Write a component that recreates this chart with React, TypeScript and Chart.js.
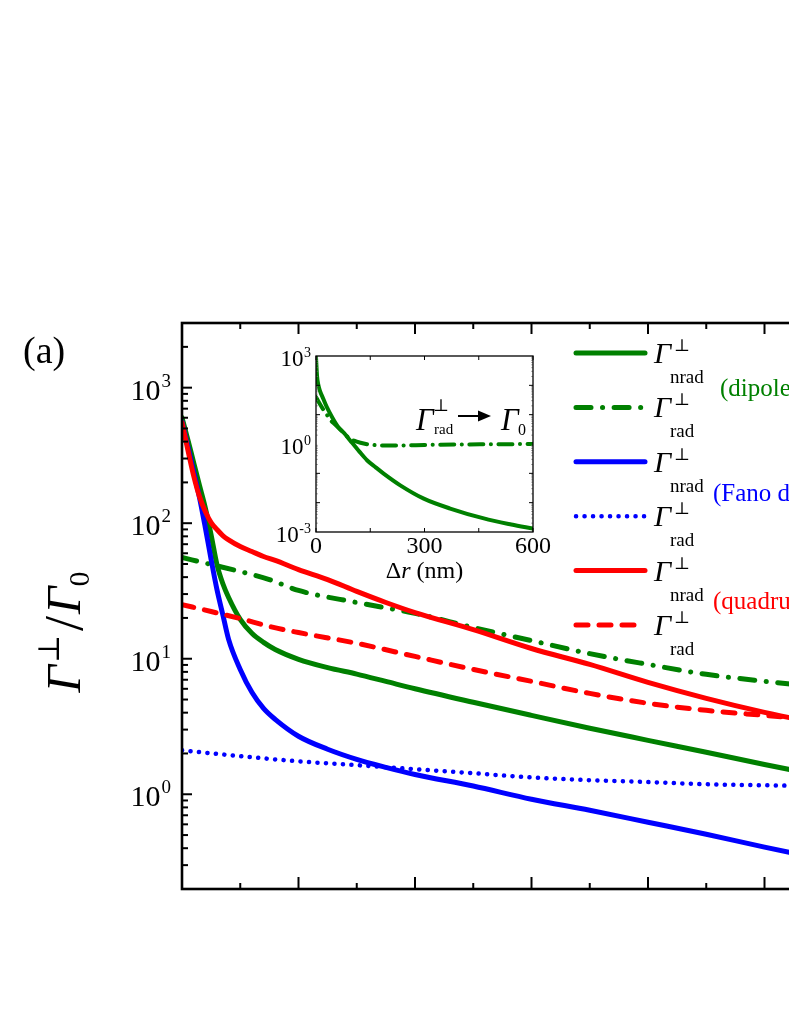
import React, { useEffect, useRef } from "react";
import { Chart, registerables } from "chart.js";
Chart.register(...registerables);

const SERIF = '"Liberation Serif", "Times New Roman", "DejaVu Serif", serif';
const GREEN = "#008000";
const BLUE = "#0000ff";
const RED = "#ff0000";

// ---------- main panel data (x: Δr in nm, y: Γ⊥/Γ0) ----------
const mainDr = [0, 1, 2, 3, 4, 5, 6, 7, 8, 10, 12, 14, 16, 20, 25, 30, 35, 40, 50, 60, 70, 80, 90, 100, 110];
const dipoleNrad = [601, 414, 280, 190, 130, 82, 49.6, 35.9, 28.3, 19.5, 15.4, 13.2, 11.7, 9.9, 8.6, 7.7, 6.8, 6.0, 4.77, 3.82, 3.07, 2.5, 2.04, 1.66, 1.36];
const fanoNrad = [561, 367, 240, 155, 92.9, 54, 32.4, 21.2, 13.9, 8.34, 5.65, 4.3, 3.57, 2.68, 2.15, 1.81, 1.58, 1.4, 1.15, 0.919, 0.762, 0.622, 0.507, 0.407, 0.332];
const quadNrad = [552, 349, 224, 157, 122, 101, 89.8, 81.1, 75.4, 67.3, 61.8, 56.8, 53.1, 45.5, 38.4, 31.4, 26.0, 21.9, 16.4, 11.9, 9.08, 6.69, 5.1, 4.02, 3.28];

const radDr = [0, 5, 10, 15, 20, 30, 40, 50, 60, 70, 80, 90, 100, 110];
const dipoleRad = [55.8, 49.6, 44.0, 38.4, 31.9, 26.0, 21.6, 17.0, 13.6, 10.9, 9.08, 7.67, 6.81, 6.15];
const quadRad = [25.1, 22.3, 19.8, 17.3, 15.6, 13.0, 10.4, 8.34, 6.81, 5.55, 4.69, 4.16, 3.82, 3.51];

const fanoRadDr = [0, 10, 20, 30, 40, 50, 60, 70, 80, 90, 100, 110];
const fanoRad = [2.11, 1.91, 1.75, 1.64, 1.53, 1.43, 1.33, 1.27, 1.23, 1.185, 1.165, 1.145];

// main axis ticks
const xMajorTicks = [20, 40, 60, 80, 100];
const xMinorTicks = [10, 30, 50, 70, 90, 110];
const yMajorTicks = [1, 10, 100, 1000];
const yTickExponents = ["0", "1", "2", "3"];
const yMinorTicks = [0.2, 0.3, 0.4, 0.5, 0.6, 0.7, 0.8, 0.9, 2, 3, 4, 5, 6, 7, 8, 9, 20, 30, 40, 50, 60, 70, 80, 90, 200, 300, 400, 500, 600, 700, 800, 900, 2000, 3000];

// legend
const legendSubs = ["nrad", "rad", "nrad", "rad", "nrad", "rad"];
const legendColors = [GREEN, GREEN, BLUE, BLUE, RED, RED];
const groupLabels = ["(dipole)", "(Fano dip)", "(quadrupole)"];
const groupColors = [GREEN, BLUE, RED];

// ---------- inset data (Δr 0–600 nm, dipole mode) ----------
const insetNradDr = [0, 3, 6, 10, 20, 30, 45, 60, 80, 95, 120, 141, 165, 187, 233, 298, 371, 464, 540, 600];
const insetNrad = [900, 200, 110, 70, 35, 18, 8, 4, 2.2, 1.3, 0.55, 0.28, 0.16, 0.098, 0.039, 0.0137, 0.0063, 0.0029, 0.0018, 0.0013];
const insetRadDr = [0, 10, 20, 30, 40, 50, 60, 75, 90, 105, 123, 145, 169, 200, 250, 300, 400, 500, 600];
const insetRad = [40, 24, 15, 10, 6.5, 5, 3.8, 2.5, 1.65, 1.3, 1.1, 0.97, 0.91, 0.89, 0.9, 0.93, 0.96, 0.98, 1.0];
const insetXTicks = [0, 300, 600];
const insetXMinor = [150, 450];
const insetYLabelled = [1e-3, 1, 1e3];
const insetYExponents = ["-3", "0", "3"];
const insetYDecades = [1e-2, 1e-1, 10, 100];

const pts = (xs: number[], ys: number[]) => xs.map((x, i) => ({ x, y: ys[i] }));

const MAIN_W = 1000;
const MAIN_H = 1021;
const MAIN_AREA = { left: 182, top: 323, right: 881, bottom: 889 };
const INSET_LEFT = 230;
const INSET_TOP = 340;

function drawGammaLabel(
  ctx: CanvasRenderingContext2D,
  x: number,
  base: number,
  gSize: number,
  supSize: number,
  subSize: number,
  sub: string,
  supDx: number,
  supDy: number,
  subDx: number,
  subDy: number,
  sup = "\u22A5"
) {
  ctx.textAlign = "left";
  ctx.textBaseline = "alphabetic";
  ctx.font = `italic ${gSize}px ${SERIF}`;
  ctx.fillText("\u0393", x, base);
  if (sup) {
    ctx.font = `${supSize}px ${SERIF}`;
    ctx.fillText(sup, x + supDx, base + supDy);
  }
  ctx.font = `${subSize}px ${SERIF}`;
  ctx.fillText(sub, x + subDx, base + subDy);
}

const mainDecor = {
  id: "mainDecor",
  afterDraw(chart: any) {
    const ctx: CanvasRenderingContext2D = chart.ctx;
    const { left, right, top, bottom } = chart.chartArea;
    const xs = chart.scales.x;
    const ys = chart.scales.y;
    ctx.save();
    ctx.strokeStyle = "#000";
    ctx.fillStyle = "#000";
    ctx.lineCap = "butt";
    ctx.lineWidth = 2;
    const vline = (x: number, y0: number, y1: number) => {
      ctx.beginPath();
      ctx.moveTo(x, y0);
      ctx.lineTo(x, y1);
      ctx.stroke();
    };
    const hline = (y: number, x0: number, x1: number) => {
      ctx.beginPath();
      ctx.moveTo(x0, y);
      ctx.lineTo(x1, y);
      ctx.stroke();
    };
    xMajorTicks.forEach((v) => {
      const px = xs.getPixelForValue(v);
      vline(px, bottom, bottom - 12);
      vline(px, top, top + 11);
    });
    xMinorTicks.forEach((v) => {
      const px = xs.getPixelForValue(v);
      vline(px, bottom, bottom - 6);
      vline(px, top, top + 6);
    });
    yMajorTicks.forEach((v) => {
      const py = ys.getPixelForValue(v);
      hline(py, left, left + 10);
      hline(py, right, right - 10);
    });
    yMinorTicks.forEach((v) => {
      const py = ys.getPixelForValue(v);
      hline(py, left, left + 6);
      hline(py, right, right - 6);
    });
    ctx.lineWidth = 2.6;
    ctx.strokeRect(left, top, right - left, bottom - top);

    // y tick labels 10^n
    yMajorTicks.forEach((v, i) => {
      const py = ys.getPixelForValue(v);
      ctx.font = `19px ${SERIF}`;
      const sw = ctx.measureText(yTickExponents[i]).width;
      ctx.font = `30px ${SERIF}`;
      const bw = ctx.measureText("10").width;
      const xEnd = 171;
      ctx.textAlign = "left";
      ctx.textBaseline = "alphabetic";
      ctx.fillText("10", xEnd - sw - bw - 1, py + 12);
      ctx.font = `19px ${SERIF}`;
      ctx.fillText(yTickExponents[i], xEnd - sw, py - 1);
    });

    // panel label
    ctx.font = `38px ${SERIF}`;
    ctx.fillText("(a)", 23, 363);

    // y-axis title  Γ⊥/Γ0 (rotated)
    ctx.save();
    ctx.translate(80, 632);
    ctx.rotate(-Math.PI / 2);
    const parts = [
      { t: "\u0393", f: `italic 48px ${SERIF}`, dy: 0, gap: 0 },
      { t: "\u22A5", f: `30px ${SERIF}`, dy: -21, gap: 2 },
      { t: "/", f: `54px ${SERIF}`, dy: 2, gap: 4 },
      { t: "\u0393", f: `italic 48px ${SERIF}`, dy: 0, gap: 2 },
      { t: "0", f: `30px ${SERIF}`, dy: 9, gap: 0 },
    ];
    let total = 0;
    const widths = parts.map((p) => {
      ctx.font = p.f;
      const w = ctx.measureText(p.t).width + p.gap;
      total += w;
      return w;
    });
    let cx = -total / 2;
    parts.forEach((p, i) => {
      ctx.font = p.f;
      ctx.fillText(p.t, cx + p.gap, p.dy);
      cx += widths[i];
    });
    ctx.restore();

    // legend
    const datasets = chart.data.datasets;
    legendSubs.forEach((sub, i) => {
      const rowY = 353 + i * 54.4;
      const ds = datasets[i];
      ctx.save();
      ctx.strokeStyle = legendColors[i];
      ctx.lineWidth = ds.borderWidth;
      ctx.lineCap = "round";
      ctx.setLineDash(ds.borderDash || []);
      ctx.beginPath();
      ctx.moveTo(576, rowY);
      ctx.lineTo(645, rowY);
      ctx.stroke();
      ctx.restore();
      ctx.fillStyle = "#000";
      drawGammaLabel(ctx, 654, rowY + 10, 30, 17, 19, sub, 20, -12, 16, 20);
    });
    groupLabels.forEach((g, i) => {
      ctx.fillStyle = groupColors[i];
      ctx.font = `25px ${SERIF}`;
      ctx.textAlign = "left";
      const gy = [396, 501, 609][i];
      const gx = [720, 713, 713][i];
      ctx.fillText(g, gx, gy);
    });
    ctx.restore();
  },
};

const insetDecor = {
  id: "insetDecor",
  afterDraw(chart: any) {
    const ctx: CanvasRenderingContext2D = chart.ctx;
    const { left, right, top, bottom } = chart.chartArea;
    const xs = chart.scales.x;
    const ys = chart.scales.y;
    ctx.save();
    ctx.strokeStyle = "#000";
    ctx.fillStyle = "#000";
    ctx.lineWidth = 1;
    const seg = (x0: number, y0: number, x1: number, y1: number) => {
      ctx.beginPath();
      ctx.moveTo(x0, y0);
      ctx.lineTo(x1, y1);
      ctx.stroke();
    };
    [...insetXTicks, ...insetXMinor].forEach((v) => {
      const px = xs.getPixelForValue(v);
      seg(px, bottom, px, bottom - 4);
      seg(px, top, px, top + 4);
    });
    insetYDecades.forEach((v) => {
      const py = ys.getPixelForValue(v);
      seg(left, py, left + 4, py);
      seg(right, py, right - 4, py);
    });
    ctx.lineWidth = 0.6;
    ctx.strokeStyle = "#777";
    for (let e = -3; e < 3; e++) {
      for (let k = 2; k <= 9; k++) {
        const py = ys.getPixelForValue(k * Math.pow(10, e));
        seg(left, py, left + 2, py);
        seg(right, py, right - 2, py);
      }
    }
    ctx.strokeStyle = "#000";
    ctx.lineWidth = 1.3;
    ctx.strokeRect(left, top, right - left, bottom - top);

    // from here on, page coordinates
    ctx.translate(-INSET_LEFT, -INSET_TOP);
    const X = (v: number) => xs.getPixelForValue(v) + INSET_LEFT;
    const Y = (v: number) => ys.getPixelForValue(v) + INSET_TOP;

    // y labels
    insetYLabelled.forEach((v, i) => {
      const py = Y(v);
      ctx.font = `14px ${SERIF}`;
      const sw = ctx.measureText(insetYExponents[i]).width;
      ctx.font = `23px ${SERIF}`;
      const bw = ctx.measureText("10").width;
      const xEnd = 311;
      ctx.textAlign = "left";
      ctx.fillText("10", xEnd - sw - bw - 0.5, py + 10);
      ctx.font = `14px ${SERIF}`;
      ctx.fillText(insetYExponents[i], xEnd - sw, py + 1);
    });
    // x labels
    ctx.font = `24px ${SERIF}`;
    ctx.textAlign = "center";
    insetXTicks.forEach((v) => {
      ctx.fillText(String(v), X(v), 553);
    });
    // x title Δr (nm)
    ctx.textAlign = "left";
    const t1 = "\u0394";
    const t2 = "r";
    const t3 = " (nm)";
    ctx.font = `24px ${SERIF}`;
    const w1 = ctx.measureText(t1).width;
    const w3 = ctx.measureText(t3).width;
    ctx.font = `italic 24px ${SERIF}`;
    const w2 = ctx.measureText(t2).width;
    let sx = X(300) - (w1 + w2 + w3) / 2;
    ctx.font = `24px ${SERIF}`;
    ctx.fillText(t1, sx, 578);
    sx += w1;
    ctx.font = `italic 24px ${SERIF}`;
    ctx.fillText(t2, sx, 578);
    sx += w2;
    ctx.font = `24px ${SERIF}`;
    ctx.fillText(t3, sx, 578);

    // annotation Γ⊥rad → Γ0
    drawGammaLabel(ctx, 416, 430, 31, 17, 15, "rad", 17, -19, 18, 4);
    ctx.lineWidth = 2;
    seg(458, 416, 481, 416);
    ctx.beginPath();
    ctx.moveTo(491, 416);
    ctx.lineTo(478, 410.5);
    ctx.lineTo(478, 421.5);
    ctx.closePath();
    ctx.fill();
    drawGammaLabel(ctx, 501, 430, 31, 16, 16, "0", 0, 0, 17, 5, "");
    ctx.restore();
  },
};

export default function App() {
  const mainRef = useRef<HTMLCanvasElement>(null);
  const insetRef = useRef<HTMLCanvasElement>(null);

  useEffect(() => {
    if (!mainRef.current || !insetRef.current) return;
    const lineDs = (label: string, data: any[], color: string, order: number, dash: number[] = []) => ({
      label,
      data,
      order,
      borderColor: color,
      backgroundColor: color,
      borderWidth: 5,
      borderDash: dash,
      borderCapStyle: "round" as const,
      borderJoinStyle: "round" as const,
      pointRadius: 0,
      fill: false,
      cubicInterpolationMode: "monotone" as const,
    });
    const main = new Chart(mainRef.current, {
      type: "line",
      data: {
        datasets: [
          lineDs("dipole nrad", pts(mainDr, dipoleNrad), GREEN, 3),
          lineDs("dipole rad", pts(radDr, dipoleRad), GREEN, 4, [15, 11.5, 0.1, 11.5]),
          lineDs("Fano nrad", pts(mainDr, fanoNrad), BLUE, 2),
          { ...lineDs("Fano rad", pts(fanoRadDr, fanoRad), BLUE, 5, [0.1, 8.4]), borderWidth: 4.5 },
          lineDs("quadrupole nrad", pts(mainDr, quadNrad), RED, 0),
          lineDs("quadrupole rad", pts(radDr, quadRad), RED, 1, [12, 11]),
        ],
      },
      options: {
        responsive: false,
        animation: false,
        layout: {
          padding: {
            left: MAIN_AREA.left,
            top: MAIN_AREA.top,
            right: MAIN_W - MAIN_AREA.right,
            bottom: MAIN_H - MAIN_AREA.bottom,
          },
        },
        scales: {
          x: { type: "linear", min: 0, max: 120, display: false },
          y: { type: "logarithmic", min: 0.2, max: 3000, display: false },
        },
        plugins: { legend: { display: false }, tooltip: { enabled: false } },
      },
      plugins: [mainDecor],
    });
    const inset = new Chart(insetRef.current, {
      type: "line",
      data: {
        datasets: [
          {
            label: "nrad",
            data: pts(insetNradDr, insetNrad),
            borderColor: GREEN,
            borderWidth: 4,
            borderCapStyle: "round",
            pointRadius: 0,
            cubicInterpolationMode: "monotone",
          },
          {
            label: "rad",
            data: pts(insetRadDr, insetRad),
            borderColor: GREEN,
            borderWidth: 4,
            borderDash: [14, 7.5, 0.1, 7.5],
            borderCapStyle: "round",
            pointRadius: 0,
            cubicInterpolationMode: "monotone",
          },
        ],
      },
      options: {
        responsive: false,
        animation: false,
        layout: { padding: { left: 86, top: 16, right: 27, bottom: 58 } },
        scales: {
          x: { type: "linear", min: 0, max: 600, display: false },
          y: { type: "logarithmic", min: 1e-3, max: 1e3, display: false },
        },
        plugins: { legend: { display: false }, tooltip: { enabled: false } },
      },
      plugins: [insetDecor],
    });
    return () => {
      main.destroy();
      inset.destroy();
    };
  }, []);

  return (
    <div
      style={{
        position: "absolute",
        left: 0,
        top: 0,
        width: 789,
        height: 1021,
        overflow: "hidden",
        background: "#fff",
      }}
    >
      <canvas
        ref={mainRef}
        width={MAIN_W}
        height={MAIN_H}
        style={{ position: "absolute", left: 0, top: 0, width: MAIN_W, height: MAIN_H }}
      />
      <canvas
        ref={insetRef}
        width={330}
        height={250}
        style={{ position: "absolute", left: INSET_LEFT, top: INSET_TOP, width: 330, height: 250 }}
      />
    </div>
  );
}
